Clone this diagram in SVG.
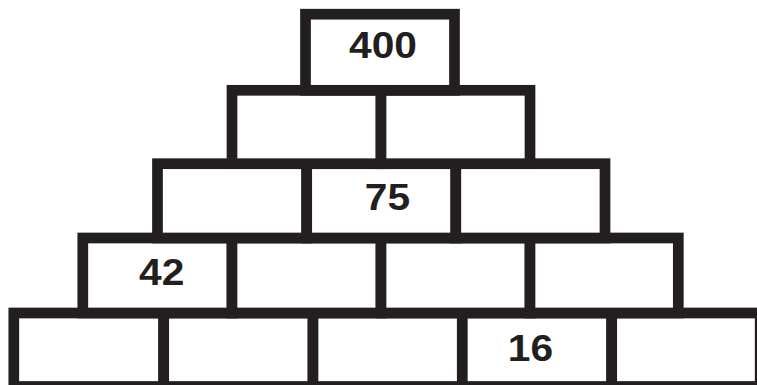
<svg xmlns="http://www.w3.org/2000/svg" width="757" height="385" viewBox="0 0 757 385">
<style>
.b{fill:#fff;stroke:#231f20;stroke-width:10.7}
.t{font-family:"Liberation Sans",Arial,sans-serif;font-weight:bold;font-size:37px;fill:#231f20;text-anchor:middle}
</style>
<rect width="757" height="385" fill="#fff"/>
<g id="row5">
<g id="b5-1"><rect class="b" x="13.8" y="313" width="149.9" height="73.5"/></g>
<g id="b5-2"><rect class="b" x="163.7" y="313" width="149.3" height="73.5"/></g>
<g id="b5-3"><rect class="b" x="313" y="313" width="149.3" height="73.5"/></g>
<g id="b5-4"><rect class="b" x="462.3" y="313" width="149.4" height="73.5"/><text class="t" transform="translate(530.5 361) scale(1.1 1)">16</text></g>
<g id="b5-5"><rect class="b" x="611.7" y="313" width="148.5" height="73.5"/></g>
</g>
<g id="row4">
<g id="b4-1"><rect class="b" x="82.8" y="238" width="149.2" height="75"/><text class="t" transform="translate(161.7 285) scale(1.1 1)">42</text></g>
<g id="b4-2"><rect class="b" x="232" y="238" width="149" height="75"/></g>
<g id="b4-3"><rect class="b" x="381" y="238" width="149" height="75"/></g>
<g id="b4-4"><rect class="b" x="530" y="238" width="148.3" height="75"/></g>
</g>
<g id="row3">
<g id="b3-1"><rect class="b" x="157.5" y="163.7" width="149.2" height="74.3"/></g>
<g id="b3-2"><rect class="b" x="306.7" y="163.7" width="149.1" height="74.3"/><text class="t" transform="translate(387.5 210) scale(1.1 1)">75</text></g>
<g id="b3-3"><rect class="b" x="455.8" y="163.7" width="149.2" height="74.3"/></g>
</g>
<g id="row2">
<g id="b2-1"><rect class="b" x="232" y="90.3" width="149" height="73.4"/></g>
<g id="b2-2"><rect class="b" x="381" y="90.3" width="149" height="73.4"/></g>
</g>
<g id="row1">
<g id="b1-1"><rect class="b" x="305.5" y="14.2" width="149" height="76.1"/><text class="t" transform="translate(383 58) scale(1.1 1)">400</text></g>
</g>
</svg>
